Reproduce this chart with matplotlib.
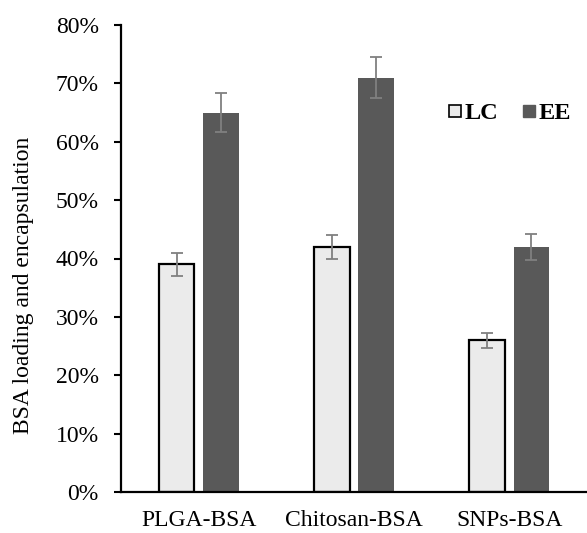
import numpy as np
import matplotlib
matplotlib.use("Agg")
import matplotlib.pyplot as plt
from matplotlib.lines import Line2D
from matplotlib.ticker import PercentFormatter

# values (percent)
groups = ["PLGA-BSA", "Chitosan-BSA", "SNPs-BSA"]
lc = [39, 42, 26]
lc_err = [2.0, 2.0, 1.3]
ee = [65, 71, 42]
ee_err = [3.3, 3.5, 2.2]
yticks = [0, 10, 20, 30, 40, 50, 60, 70, 80]

plt.rcParams['font.family'] = ['Liberation Serif', 'DejaVu Serif']
plt.rcParams['font.size'] = 17

fig = plt.figure(figsize=(5.87, 5.33), dpi=100)
ax = fig.add_axes([121 / 587, 1 - 492 / 533, 466 / 587, 467 / 533])

x = np.arange(len(groups))
w = 0.23
off = 0.142

ax.bar(x - off, lc, width=w, color='#ebebeb', edgecolor='black', linewidth=1.6, zorder=2)
ax.bar(x + off, ee, width=w, color='#595959', edgecolor='none', zorder=2)
ax.errorbar(x - off, lc, yerr=lc_err, fmt='none', ecolor='#808080', elinewidth=1.3,
            capsize=4.3, capthick=1.3, zorder=3)
ax.errorbar(x + off, ee, yerr=ee_err, fmt='none', ecolor='#808080', elinewidth=1.3,
            capsize=4.3, capthick=1.3, zorder=3)

ax.set_xlim(-0.5, 2.5)
ax.set_ylim(0, 80)
ax.set_yticks(yticks)
ax.yaxis.set_major_formatter(PercentFormatter(decimals=0))
ax.set_xticks(x)
ax.set_xticklabels(groups)
ax.tick_params(axis='x', length=0, pad=13)
ax.tick_params(axis='y', length=5, width=1.5, pad=11)

for s in ['top', 'right']:
    ax.spines[s].set_visible(False)
for s in ['left', 'bottom']:
    ax.spines[s].set_linewidth(1.6)

ax.set_ylabel("BSA loading and encapsulation")
ax.yaxis.set_label_coords(-0.187, 0.443)

handles = [
    Line2D([], [], marker='s', linestyle='none', markersize=8.5,
           markerfacecolor='#ebebeb', markeredgecolor='black', markeredgewidth=1.2),
    Line2D([], [], marker='s', linestyle='none', markersize=8.5,
           markerfacecolor='#595959', markeredgecolor='#595959'),
]
fig.legend(handles, ["LC", "EE"], loc='center left', bbox_to_anchor=(437 / 587, 1 - 113 / 533),
           ncol=2, frameon=False, borderpad=0, handlelength=0.5, handletextpad=0.15,
           columnspacing=1.0, prop={'weight': 'bold', 'size': 17.5})

fig.savefig("out.png", dpi=100)
